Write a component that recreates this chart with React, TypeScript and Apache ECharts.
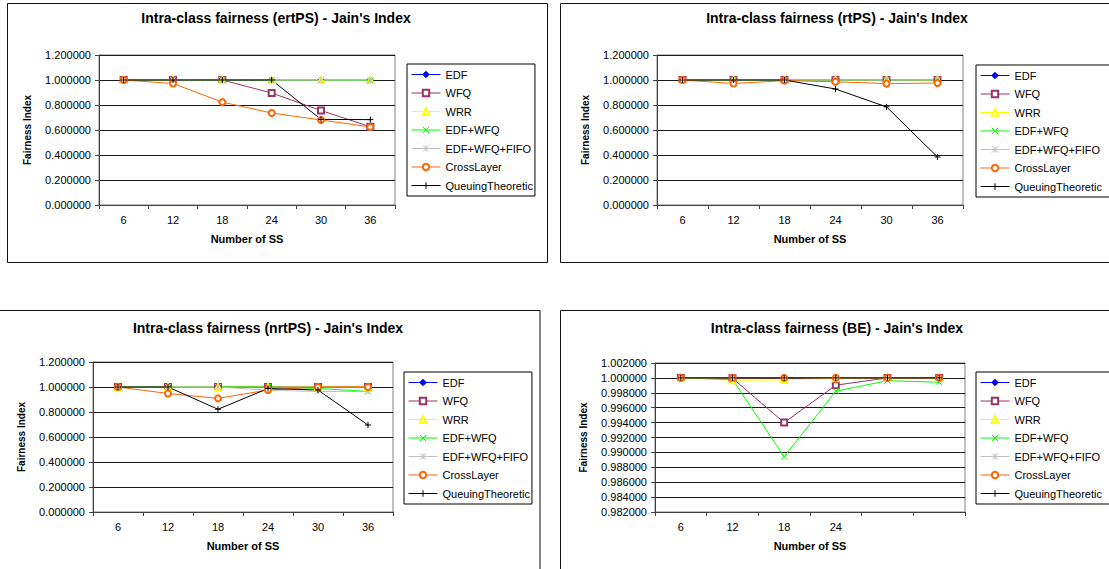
import React, { useEffect, useRef } from "react";
import * as echarts from "echarts";

const seriesNames = ["EDF", "WFQ", "WRR", "EDF+WFQ", "EDF+WFQ+FIFO", "CrossLayer", "QueuingTheoretic"];
const seriesColors = ["#0000FF", "#993366", "#FFFF00", "#00FF00", "#C0C0C0", "#FF6600", "#000000"];
const seriesSymbols = [
  "diamond",
  "emptyRect",
  "emptyTriangle",
  "path://M0,0L10,10M10,0L0,10",
  "path://M0,0L10,10M10,0L0,10M5,0L5,10",
  "emptyCircle",
  "path://M5,0L5,10M0,5L10,5",
];

const categories = ["6", "12", "18", "24", "30", "36"];
const categoriesBE = ["6", "12", "18", "24", "", " "];

const panelTitles = [
  "Intra-class fairness (ertPS) - Jain's Index",
  "Intra-class fairness (rtPS) - Jain's Index",
  "Intra-class fairness (nrtPS) - Jain's Index",
  "Intra-class fairness (BE) - Jain's Index",
];
const xAxisTitle = "Number of SS";
const yAxisTitle = "Fairness Index";

// rows follow seriesNames order
const ertPSValues = [
  [1, 1, 1, 1, 1, 1],
  [1, 1, 1, 0.896, 0.756, 0.626],
  [1, 1, 1, 1, 1, 1],
  [1, 1, 1, 1, 1, 0.997],
  [1, 1, 1, 1, 1, 1],
  [1, 0.972, 0.823, 0.736, 0.68, 0.624],
  [1, 1, 1, 1, 0.685, 0.683],
];
const rtPSValues = [
  [1, 1, 1, 1, 1, 1],
  [1, 1, 1, 1, 1, 1],
  [1, 1, 1, 1, 1, 1],
  [1, 1, 1, 1, 1, 1],
  [1, 1, 1, 1, 1, 1],
  [1, 0.972, 0.995, 0.986, 0.971, 0.976],
  [1, 1, 1, 0.928, 0.785, 0.384],
];
const nrtPSValues = [
  [1, 1, 1, 1, 1, 1],
  [1, 1, 1, 1, 1, 1],
  [1, 1, 1, 1, 1, 1],
  [1, 1, 1, 1, 0.988, 0.965],
  [1, 1, 1, 0.974, 0.964, 0.965],
  [1, 0.948, 0.909, 0.976, 1, 1],
  [1, 1, 0.822, 0.988, 0.976, 0.696],
];
const beValues = [
  [1, 1, 1, 1, 1, 1],
  [1, 0.99995, 0.994, 0.99902, 1, 1],
  [1, 0.99969, 0.99973, 0.99996, 1, 1],
  [1, 0.99978, 0.98942, 0.99822, 0.99963, 0.99942],
  [1, 1, 1, 1, 1, 1],
  [1, 1, 1, 1, 1, 1],
  [1, 1, 1, 1, 1, 1],
];

const panelValues = [ertPSValues, rtPSValues, nrtPSValues, beValues];
const panelCategories = [categories, categories, categories, categoriesBE];
const panelYMin = [0, 0, 0, 0.982];
const panelYMax = [1.2, 1.2, 1.2, 1.002];
const panelYStep = [0.2, 0.2, 0.2, 0.002];

const FONT = "'Liberation Sans', Arial, sans-serif";

const grids = [
  { left: 99, top: 55, width: 296, height: 150 },
  { left: 657, top: 55, width: 306, height: 150 },
  { left: 93, top: 362, width: 300, height: 150 },
  { left: 655, top: 363, width: 310, height: 149 },
];
const legendPos = [
  { left: 407, top: 64, padding: [5, 2, 5, 4] },
  { left: 976, top: 65, padding: [5, 10, 5, 4] },
  { left: 404, top: 372, padding: [5, 2, 5, 4] },
  { left: 976, top: 372, padding: [5, 10, 5, 4] },
];
const frames = [
  { x: 7.5, y: 3.5, width: 540, height: 259 },
  { x: 560.5, y: 3.5, width: 600, height: 259 },
  { x: -10, y: 310.5, width: 550, height: 300 },
  { x: 560.5, y: 310.5, width: 600, height: 300 },
];
const titlePos = [
  { x: 276, y: 18 },
  { x: 837, y: 18 },
  { x: 268, y: 328 },
  { x: 837, y: 328 },
];

export default function App() {
  const ref = useRef<HTMLDivElement>(null);

  useEffect(() => {
    if (!ref.current) return;
    const chart = echarts.init(ref.current, null, { renderer: "svg" });

    const series: any[] = [];
    panelValues.forEach((rows, p) => {
      rows.forEach((vals, s) => {
        series.push({
          type: "line",
          name: seriesNames[s],
          xAxisIndex: p,
          yAxisIndex: p,
          data: vals,
          symbol: seriesSymbols[s],
          symbolSize: 6,
          symbolKeepAspect: true,
          lineStyle: { color: seriesColors[s], width: 1 },
          itemStyle: { color: seriesColors[s], borderColor: seriesColors[s], borderWidth: 1 },
          emphasis: { disabled: true },
        });
      });
    });

    const option: any = {
      animation: false,
      backgroundColor: "#ffffff",
      textStyle: { fontFamily: FONT },
      grid: grids.map((g) => ({
        ...g,
        show: true,
        borderColor: "#808080",
        borderWidth: 1,
        backgroundColor: "transparent",
        containLabel: false,
      })),
      xAxis: panelCategories.map((cats, p) => ({
        type: "category",
        gridIndex: p,
        data: cats,
        boundaryGap: true,
        name: xAxisTitle,
        nameLocation: "middle",
        nameGap: 28,
        nameTextStyle: { fontSize: 11, fontWeight: "bold", color: "#000", fontFamily: FONT },
        axisLine: { lineStyle: { color: "#404040", width: 1 } },
        axisTick: { show: true, length: 4, inside: false, lineStyle: { color: "#404040" } },
        axisLabel: { fontSize: 11, color: "#000", margin: 9, fontFamily: FONT, interval: 0 },
        splitLine: { show: false },
      })),
      yAxis: panelValues.map((_, p) => ({
        type: "value",
        gridIndex: p,
        min: panelYMin[p],
        max: panelYMax[p],
        interval: panelYStep[p],
        name: yAxisTitle,
        nameLocation: "middle",
        nameGap: 67,
        nameTextStyle: { fontSize: 10, fontWeight: "bold", color: "#000", fontFamily: FONT },
        axisLine: { show: true, lineStyle: { color: "#404040", width: 1 } },
        axisTick: { show: true, length: 4, lineStyle: { color: "#404040" } },
        axisLabel: {
          fontSize: 11,
          color: "#000",
          margin: 8,
          fontFamily: FONT,
          formatter: (v: number) => v.toFixed(6),
        },
        splitLine: { show: true, lineStyle: { color: "#1a1a1a", width: 1 } },
      })),
      legend: legendPos.map((pos) => ({
        ...pos,
        orient: "vertical",
        data: seriesNames,
        selectedMode: false,
        borderColor: "#000",
        borderWidth: 1,
        itemWidth: 29,
        itemHeight: 8,
        itemGap: 7.5,
        lineStyle: { width: 1 },
        itemStyle: { borderWidth: 1 },
        textStyle: { fontSize: 11, color: "#000", fontFamily: FONT },
      })),
      graphic: {
        elements: [
          ...frames.map((f) => ({
            type: "rect",
            silent: true,
            z: -10,
            shape: f,
            style: { fill: "none", stroke: "#111", lineWidth: 1 },
          })),
          ...titlePos.map((t, i) => ({
            type: "text",
            silent: true,
            x: t.x,
            y: t.y,
            style: {
              text: panelTitles[i],
              fontSize: 14,
              fontWeight: "bold",
              fontFamily: FONT,
              fill: "#000",
              align: "center",
              verticalAlign: "middle",
            },
          })),
        ],
      },
      series,
    };

    chart.setOption(option);
    return () => chart.dispose();
  }, []);

  return (
    <div
      ref={ref}
      style={{ position: "absolute", left: 0, top: 0, width: 1109, height: 569 }}
    />
  );
}
